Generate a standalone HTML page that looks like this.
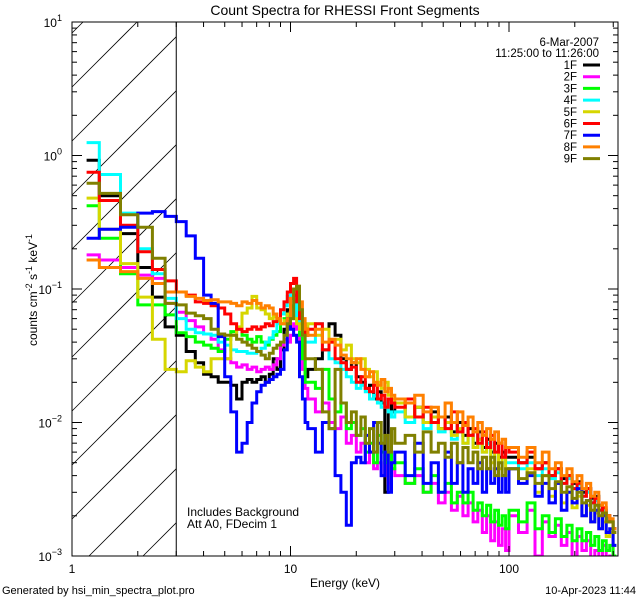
<!DOCTYPE html>
<html><head><meta charset="utf-8"><style>
html,body{margin:0;padding:0;background:#fff;width:640px;height:600px;overflow:hidden}
svg{display:block;font-family:"Liberation Sans","DejaVu Sans",sans-serif}
</style></head><body>
<svg id="chart" width="640" height="600" viewBox="0 0 640 600" xmlns="http://www.w3.org/2000/svg">
<rect width="640" height="600" fill="#fff"/>
<text x="345" y="15" text-anchor="middle" font-size="14">Count Spectra for RHESSI Front Segments</text>
<g id="hatch"></g>
<g id="series"></g>
<g id="axes"></g>
<text x="187" y="516" font-size="12">Includes Background</text>
<text x="187" y="528" font-size="12">Att A0, FDecim 1</text>
<text x="599" y="46" text-anchor="end" font-size="11.5">6-Mar-2007</text>
<text x="599" y="57" text-anchor="end" font-size="11.5">11:25:00 to 11:26:00</text>
<g id="legend"></g>
<text x="345" y="587" text-anchor="middle" font-size="12">Energy (keV)</text>
<text transform="translate(37,290) rotate(-90)" text-anchor="middle" font-size="12">counts cm<tspan dy="-5" font-size="9">-2</tspan><tspan dy="5"> s</tspan><tspan dy="-5" font-size="9">-1</tspan><tspan dy="5"> keV</tspan><tspan dy="-5" font-size="9">-1</tspan></text>
<text x="2" y="594" font-size="11">Generated by hsi_min_spectra_plot.pro</text>
<text x="636" y="594" text-anchor="end" font-size="11">10-Apr-2023 11:44</text>
</svg>
<script>
// Energy bin edges (keV)
const lowEdges = [7/6]; for (let i = 4; i <= 36; i++) lowEdges.push(i / 3);
const midEdges = [13,14,15,16,17,18,19,20,21,22,23,24,25,26,27,28,29,30];
const hiEdges = [33.5,37,40.5,44,47.5,51,54.5,58,61.5,65,68.5,72,75.5,79,82.5,86,89.5,93,96.5,100];
const topEdges = [110.5,121,131.5,142,152.5,163,173.5,184,194.5,205,215.5,226,236.5,247,257.5,268,278.5,289,299.5,310];
const edges = lowEdges.concat(midEdges, hiEdges, topEdges);
// Series labels and colours
const labels = ["1F","2F","3F","4F","5F","6F","7F","8F","9F"];
const colors = ["#000000","#ff00ff","#00ff00","#00ffff","#d6d600","#ff0000","#0000ff","#ff8000","#808000"];
// Counts in units of 1e-3 counts cm^-2 s^-1 keV^-1
const s1F = [920,500,260,145,87,52, 45,34,28,23,22,20,20,19,15,20,21,20,21,22,20,23,30,25,35,50,70,85,90,60,40,30,22, 25,30,35,55,45,30,25,28,22,20,18,19,15,17,14,3,15,12, 14,11,13,10,12,9,11,8.5,10,8,9,7,8.5,6.5,7.5,6,7,5.5,6,5.5, 5.5,5,5.5,4.5,5,4,4.5,3.8,4,3.5,3.6,3,3.2,2.7,2.8,2.4,2.2,2,1.8,1.6];
const s2F = [180,165,145,127,120,78, 67,58,52,46,42,35,30,28,26,27,25,26,24,25,26,25,27,30,38,42,40,45,55,50,35,25,18, 15,12,14,10,9,11,7,8,6,7,5,6,4.5,5,4,5,3.5,4.5, 4,3.5,4,3,3.5,2.5,3,2.2,2.8,2,2.5,1.8,2.2,1.5,2,1.3,1.8,1.2,1.6,1.1, 2,1.5,2.2,1,1.8,1.4,1.7,1.2,1.5,0.9,1.4,1.1,1.3,0.9,1.1,0.9,1.2,0.9,1,0.8];
const s3F = [420,240,130,76,76,64, 47,44,40,38,36,34,42,48,50,45,42,40,44,40,38,42,45,48,55,60,62,70,75,65,45,30,20, 20,18,25,15,12,14,9,10,8,9,6,7,5,8,6,5,6,4.5, 5,3.5,4.5,3,4,3,3.5,2.5,3,2.5,3,2.2,2.5,2,2.4,1.8,2.2,1.7,2,1.6, 2.2,1.8,2.5,1.6,2,1.5,1.9,1.4,1.7,1.3,1.6,1.3,1.5,1.2,1.4,1.1,1.3,1.1,1.2,1];
const s4F = [1250,720,370,200,130,85, 60,50,47,46,45,40,38,35,34,34,33,33,34,36,40,43,48,55,65,75,88,90,85,60,50,45,40, 40,55,35,30,28,25,22,20,18,19,17,15,16,14,13,14,12,11, 12,10,11,9,10,8.5,9,7.5,8.5,7,8,6.5,7.5,6,7,5.5,6,5,5.5,5, 5,4.5,5,4,4.5,3.8,4.2,3.5,3.8,3.2,3.4,2.8,3,2.5,2.6,2.2,2.2,1.9,1.8,1.6];
const s5F = [480,280,155,87,42,25, 24,29,26,24,30,30,30,45,52,66,72,88,72,70,65,60,62,58,55,58,65,70,60,55,50,48,45, 55,45,50,40,42,35,38,30,28,30,25,22,24,20,18,20,16,15, 14,11,13,10,11,9,10,8,9,7,8,6.5,7.5,6,6.5,5,6,4.5,5.5,4.5, 4.5,3.5,4.5,3,4,2.8,3.5,2.5,3,2.3,2.8,2,2.4,1.8,2.1,1.6,1.8,1.4,1.5,1.2];
const s6F = [750,460,300,190,140,115, 95,90,80,78,75,72,65,55,50,48,50,52,50,52,55,53,57,60,70,80,95,110,120,80,60,55,45, 50,55,35,40,30,28,25,26,20,22,18,17,19,15,16,13,15,14, 13,15,11,13,10,11,9,12,8.5,10,8,9,7,8.5,6.5,8,6,7,5.5,6.5, 6,5,6,4.5,5,4,4.5,3.5,4,3.2,3.5,2.8,3.2,2.5,2.7,2.2,2.3,2,1.8,1.6];
const s7F = [240,280,290,370,380,350, 320,250,170,90,78,44,22,12,6,7,10,14,17,19,20,21,22,23,25,35,60,50,45,40,22,15,10, 9,6,10,9,4,3,1.7,5,5.5,5,8,6,10,7,4,6,3,5, 6,4,7,3.5,5,3,6,3.5,5,3,4.5,3.5,5,3,4.5,3.5,4.5,3,4,3, 4.5,3.5,4,2.8,3.5,2.5,3.5,2.2,3,2.5,3.2,2,2.6,1.8,2.2,1.6,2,1.5,1.6,1.2];
const s8F = [165,145,135,120,110,95, 95,88,85,82,83,80,80,78,75,80,78,82,78,72,75,72,65,60,55,55,60,85,100,105,80,60,50, 45,50,40,42,38,32,30,28,30,25,22,24,20,19,21,17,18,16, 15,14,16,12,13,11,14,10,12,9.5,11,8.5,10,8,9,7.5,8.5,7,7.5,6.5, 6.5,5.5,6.5,5,6,4.5,5,4,4.5,3.6,4,3.2,3.5,2.8,3,2.4,2.5,2,1.9,1.6];
const s9F = [620,520,360,290,170,78, 76,66,63,60,50,46,45,45,42,40,38,36,34,32,30,33,36,38,40,45,55,60,100,105,70,45,30, 30,25,12,9,25,14,10,12,8,11,7,9,6,10,7,8,6,9, 7,8,6,8.5,6,7,5.5,7,5,6.5,5,6,4.5,5.5,4.5,5.5,4,5,4,4.5, 4.5,3.8,4.2,3.5,4,3.2,3.6,3,3.3,2.7,3,2.5,2.6,2.2,2.4,2,2.1,1.8,1.8,1.5];
const seriesValues = [s1F,s2F,s3F,s4F,s5F,s6F,s7F,s8F,s9F];
const xTickMajor = [1,10,100];
const yTickMajor = [-3,-2,-1,0,1];

// geometry
const L = 72, R = 618, T = 22, B = 556;
const xDecade = 218.5;
const yMin = -3, yMax = 1;
function xs(e){ return L + Math.log10(e) * xDecade; }
function ys(v){ const lv = Math.log10(v); return B - (lv - yMin) / (yMax - yMin) * (B - T); }
const NS = "http://www.w3.org/2000/svg";
function mk(tag, attrs, parent){ const el = document.createElementNS(NS, tag); for (const k in attrs) el.setAttribute(k, attrs[k]); parent.appendChild(el); return el; }
const svg = document.getElementById('chart');
const defs = mk('defs', {}, svg);
const cp = mk('clipPath', {id:'plotclip'}, defs);
mk('rect', {x:L, y:T, width:R-L, height:B-T}, cp);

// hatching: lines y = c - (x - L), clipped manually to [L, x3] x [T, B]
const hatch = document.getElementById('hatch');
const X3 = xs(3);
for (let c = 195 - 54*3; c < B + (X3 - L); c += 54) {
  let xa = L, ya = c;
  if (ya > B) { xa = L + (ya - B); ya = B; }
  let xb = X3, yb = c - (X3 - L);
  if (yb < T) { xb = L + (c - T); yb = T; }
  if (xa >= xb) continue;
  const ln = mk('line', {x1:xa.toFixed(1), y1:ya.toFixed(1), x2:xb.toFixed(1), y2:yb.toFixed(1), stroke:'#000', 'stroke-width':0.8}, hatch);
  
  
}
const vl = mk('line', {x1:X3, y1:T, x2:X3, y2:B, stroke:'#000', 'stroke-width':1}, svg);



// series
const sg = document.getElementById('series');
sg.setAttribute('clip-path', 'url(#plotclip)');
seriesValues.forEach((vals, si) => {
  let d = '';
  for (let i = 0; i < vals.length && i + 1 < edges.length; i++) {
    const y = Math.min(ys(Math.max(vals[i] * 1e-3, 1e-4)), B + 3).toFixed(1);
    const x0 = xs(edges[i]).toFixed(1), x1 = Math.min(xs(edges[i+1]), R + 2).toFixed(1);
    d += (i === 0 ? 'M' : 'L') + x0 + ' ' + y + 'L' + x1 + ' ' + y;
  }
  const p = mk('path', {d:d, fill:'none', stroke:colors[si], 'stroke-width':3, 'stroke-linejoin':'miter'}, sg);
  
  
});

// axes
const ax = document.getElementById('axes');
mk('rect', {x:L, y:T, width:R-L, height:B-T, fill:'none', stroke:'#000', 'stroke-width':1}, ax);
for (let dcd = 0; dcd < 3; dcd++) {
  for (let m = 1; m <= 9; m++) {
    const e = Math.pow(10, dcd) * m;
    const x = xs(e); if (x > R) break;
    const len = m === 1 ? 10 : 5;
    mk('line', {x1:x, y1:B, x2:x, y2:B-len, stroke:'#000'}, ax);
    mk('line', {x1:x, y1:T, x2:x, y2:T+len, stroke:'#000'}, ax);
  }
}
xTickMajor.forEach(e => {
  const t = mk('text', {x:xs(e), y:573, 'text-anchor':'middle', 'font-size':12}, ax);
  t.textContent = String(e);
  
  
});
for (let p = -3; p <= 1; p++) {
  for (let m = 1; m <= 9; m++) {
    if (p === 1 && m > 1) break;
    const v = Math.pow(10, p) * m;
    const y = ys(v);
    const len = m === 1 ? 10 : 5;
    mk('line', {x1:L, y1:y, x2:L+len, y2:y, stroke:'#000'}, ax);
    mk('line', {x1:R, y1:y, x2:R-len, y2:y, stroke:'#000'}, ax);
  }
}
yTickMajor.forEach(p => {
  const t = mk('text', {x:62, y:ys(Math.pow(10,p))+5, 'text-anchor':'end', 'font-size':12}, ax);
  t.textContent = '10';
  const s = mk('tspan', {dy:-6, 'font-size':9}, t);
  s.textContent = String(p).replace('-', '\u2212');
  
  
});

// legend
const lg = document.getElementById('legend');
labels.forEach((lab, i) => {
  const y = 65 + i * 11.7;
  const t = mk('text', {x:577, y:y+4, 'text-anchor':'end', 'font-size':11.5}, lg);
  t.textContent = lab;
  
  
  const l = mk('line', {x1:583, y1:y, x2:600, y2:y, stroke:colors[i], 'stroke-width':3}, lg);
  
  
});
</script>
</body></html>
